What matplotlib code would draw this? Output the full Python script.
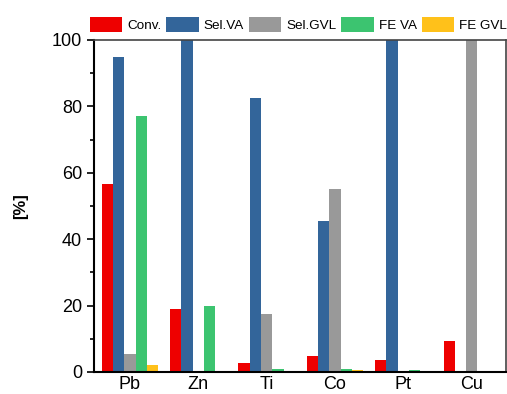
import numpy as np
import matplotlib.pyplot as plt
from matplotlib.ticker import MultipleLocator

plt.rcParams['font.family'] = ['Liberation Sans', 'DejaVu Sans']

metals = ['Pb', 'Zn', 'Ti', 'Co', 'Pt', 'Cu']
series_names = ['Conv.', 'Sel.VA', 'Sel.GVL', 'FE VA', 'FE GVL']
conv = [56.6, 19.0, 2.7, 4.8, 3.6, 9.3]
sel_va = [94.8, 100.0, 82.5, 45.5, 100.0, 0.0]
sel_gvl = [5.3, 0.3, 17.5, 55.0, 0.0, 100.0]
fe_va = [77.0, 20.0, 0.8, 0.8, 0.5, 0.0]
fe_gvl = [2.0, 0.0, 0.0, 0.5, 0.0, 0.4]
colors = ['#EE0000', '#33659A', '#999999', '#3CC470', '#FFC11A']


def create_plot():
    fig = plt.figure(figsize=(5.07, 3.94), dpi=100)
    ax = fig.add_axes([0.1854, 0.056, 0.8126, 0.8425])

    x = np.arange(len(metals))
    w = 0.165
    data = [conv, sel_va, sel_gvl, fe_va, fe_gvl]
    for i, (vals, name, c) in enumerate(zip(data, series_names, colors)):
        ax.bar(x + (i - 2) * w, vals, w, color=c, label=name, linewidth=0)

    ax.set_xlim(-0.525, 5.5)
    ax.set_ylim(0, 100)
    ax.set_xticks(x)
    ax.set_xticklabels(metals, fontsize=13)
    ax.tick_params(axis='x', length=0, pad=3)
    ax.yaxis.set_major_locator(MultipleLocator(20))
    ax.yaxis.set_minor_locator(MultipleLocator(10))
    ax.tick_params(axis='y', which='major', direction='out', length=5, width=1.2, labelsize=13)
    ax.tick_params(axis='y', which='minor', direction='out', length=3, width=1.2)
    ax.set_ylabel('[%]', fontsize=12, fontweight='bold', labelpad=17)

    for side in ['left', 'bottom']:
        ax.spines[side].set_linewidth(1.5)
        ax.spines[side].set_color('black')
    for side in ['top', 'right']:
        ax.spines[side].set_linewidth(1.2)
        ax.spines[side].set_color('#444444')

    ax.legend(loc='lower left', bbox_to_anchor=(-0.03, 1.0), ncol=5, frameon=False,
              fontsize=9.7, handlelength=2.4, handleheight=1.3, handletextpad=0.37,
              columnspacing=0.37, borderpad=0.2, borderaxespad=0.4)

    fig.savefig('out.png', dpi=100)
    plt.close(fig)


if __name__ == "__main__":
    create_plot()
